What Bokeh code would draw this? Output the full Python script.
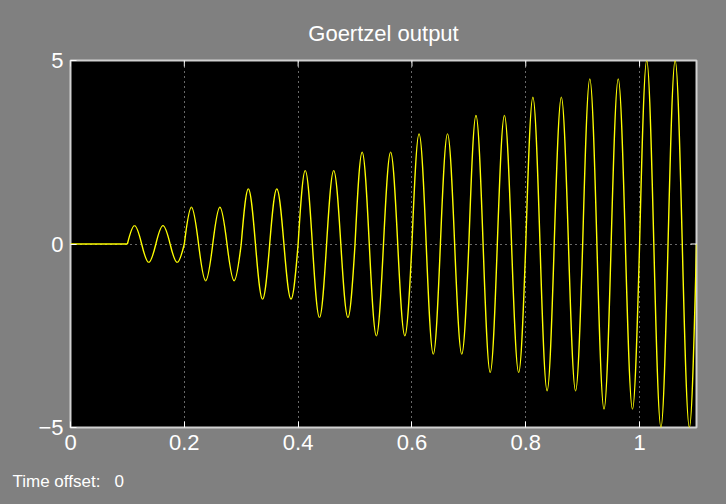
import math
from bokeh.plotting import figure
from bokeh.models import Range1d, FixedTicker, Title
from bokeh.embed import file_html
from bokeh.resources import INLINE

# ---- data ----
flat_t = [0.0, 0.1]
flat_v = [0.0, 0.0]

# zero crossings of the oscillation
zero_t = [0.1, 0.125, 0.15, 0.175, 0.2, 0.225, 0.25, 0.275, 0.3, 0.325,
          0.35, 0.375, 0.4, 0.425, 0.45, 0.475, 0.5, 0.525, 0.55, 0.575,
          0.6, 0.625, 0.65, 0.675, 0.7, 0.725, 0.75, 0.775, 0.8, 0.825,
          0.85, 0.875, 0.9, 0.925, 0.95, 0.975, 1.0, 1.025, 1.05, 1.075, 1.1]

# peaks and troughs
ext_t = [0.1125, 0.1375, 0.1625, 0.1875, 0.2125, 0.2375, 0.2625, 0.2875,
         0.3125, 0.3375, 0.3625, 0.3875, 0.4125, 0.4375, 0.4625, 0.4875,
         0.5125, 0.5375, 0.5625, 0.5875, 0.6125, 0.6375, 0.6625, 0.6875,
         0.7125, 0.7375, 0.7625, 0.7875, 0.8125, 0.8375, 0.8625, 0.8875,
         0.9125, 0.9375, 0.9625, 0.9875, 1.0125, 1.0375, 1.0625, 1.0875]
ext_v = [0.5, -0.5, 0.5, -0.5, 1.0, -1.0, 1.0, -1.0,
         1.5, -1.5, 1.5, -1.5, 2.0, -2.0, 2.0, -2.0,
         2.5, -2.5, 2.5, -2.5, 3.0, -3.0, 3.0, -3.0,
         3.5, -3.5, 3.5, -3.5, 4.0, -4.0, 4.0, -4.0,
         4.5, -4.5, 4.5, -4.5, 5.0, -5.0, 5.0, -5.0]

x_ticks = [0, 0.2, 0.4, 0.6, 0.8, 1]
x_labels = ["0", "0.2", "0.4", "0.6", "0.8", "1"]
y_ticks = [-5, 0, 5]
x_max = 1.1
y_max = 5

title_text = "Goertzel output"
footer_text = "Time offset:\u00a0\u00a0\u00a00"

# ---- bezier segments: quarter waves between zero crossings and extrema ----
bx0, by0, bx1, by1, bcx0, bcy0, bcx1, bcy1 = [], [], [], [], [], [], [], []
for i, (te, ve) in enumerate(zip(ext_t, ext_v)):
    za, zb = zero_t[i], zero_t[i + 1]
    d = (te - za) / 3.0
    bx0.append(za); by0.append(0.0); bx1.append(te); by1.append(ve)
    bcx0.append(za + d); bcy0.append(ve * math.pi / 6.0)
    bcx1.append(te - d); bcy1.append(ve)
    d = (zb - te) / 3.0
    bx0.append(te); by0.append(ve); bx1.append(zb); by1.append(0.0)
    bcx0.append(te + d); bcy0.append(ve)
    bcx1.append(zb - d); bcy1.append(ve * math.pi / 6.0)

BG = "#808080"
FONT = "Liberation Sans"
YEL = "#ffff00"

p = figure(width=726, height=504, output_backend="svg", toolbar_location=None,
           x_range=Range1d(0, x_max), y_range=Range1d(-y_max, y_max),
           min_border_left=70, min_border_right=30, min_border_top=60,
           min_border_bottom=77, title=title_text)

p.background_fill_color = "black"
p.border_fill_color = BG
p.outline_line_color = "#d0d0d0"
p.outline_line_width = 2

p.title.align = "center"
p.title.text_color = "white"
p.title.text_font = FONT
p.title.text_font_size = "22px"
p.title.text_font_style = "normal"
p.title.standoff = 30

# grid
p.xgrid.ticker = FixedTicker(ticks=x_ticks)
p.ygrid.ticker = FixedTicker(ticks=[0])
for g in (p.xgrid, p.ygrid):
    g.grid_line_color = "#d0d0d0"
    g.grid_line_dash = "1 4"
    g.grid_line_width = 1

p.line(flat_t, flat_v, line_color=YEL, line_width=1.4)
p.bezier(x0=bx0, y0=by0, x1=bx1, y1=by1, cx0=bcx0, cy0=bcy0, cx1=bcx1, cy1=bcy1,
         line_color=YEL, line_width=1.4)

# inward ticks on the top and right edges (half of each dash is clipped)
p.scatter(x_ticks, [y_max] * len(x_ticks), marker="dash", angle=math.pi / 2,
          size=12, line_color="white", line_width=1)
p.scatter([x_max], [0], marker="dash", size=12, line_color="white", line_width=1)

xa = p.xaxis[0]
xa.ticker = FixedTicker(ticks=x_ticks)
xa.major_label_overrides = {t: l for t, l in zip(x_ticks, x_labels)}
ya = p.yaxis[0]
ya.ticker = FixedTicker(ticks=y_ticks)
for ax in (xa, ya):
    ax.axis_line_color = None
    ax.major_tick_in = 6
    ax.major_tick_out = 0
    ax.major_tick_line_color = "white"
    ax.minor_tick_line_color = None
    ax.major_label_text_color = "white"
    ax.major_label_text_font = FONT
    ax.major_label_text_font_size = "22px"
xa.major_label_standoff = 7
ya.major_label_standoff = 7

footer = Title(text="\u00a0\n" + footer_text, align="left", offset=-58, standoff=0,
               vertical_align="top",
               text_color="white", text_font=FONT, text_font_size="17px",
               text_font_style="normal")
p.add_layout(footer, "below")

html = file_html(p, INLINE, title="Goertzel output")
html = html.replace("<body>", '<body style="background-color:#808080;">')
open("out.html", "w").write(html)
